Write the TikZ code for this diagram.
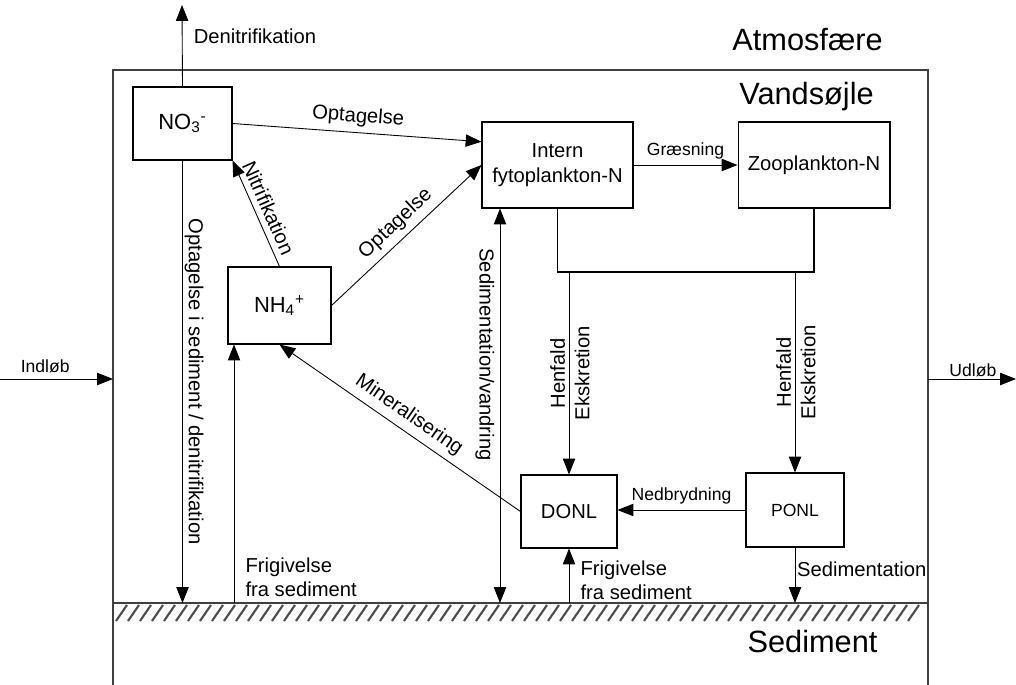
\documentclass[tikz,border=0pt]{standalone}
\usepackage{fontspec}
\setmainfont{Liberation Sans}
\usetikzlibrary{arrows.meta}
\usetikzlibrary{positioning}

\begin{document}
\begin{tikzpicture}[x=0.02cm,y=-0.02cm,
  every node/.style={font=\fontsize{11.5}{14}\selectfont},
  box/.style={draw,line width=0.6pt,align=center,inner sep=2pt},
  big/.style={font=\fontsize{17.5}{21}\selectfont},
  mid/.style={font=\fontsize{12.5}{15}\selectfont},
  small/.style={font=\fontsize{10}{12}\selectfont},
  flow/.style={line width=0.5pt,-{Triangle[length=9pt,width=7pt]}},
  back/.style={line width=0.5pt,{Triangle[length=9pt,width=7pt]}-},
  both/.style={line width=0.5pt,{Triangle[length=9pt,width=7pt]}-{Triangle[length=9pt,width=7pt]}},
  frame/.style={line width=0.6pt,black!75},
  hatch/.style={line width=1.2pt,black!70}]
\useasboundingbox (0,0) rectangle (1016,685);

\draw[frame] (113,685) -- (113,70) -- (928,70) -- (928,685);
\draw[frame] (113,603) -- (928,603);
\foreach \x in {116,128,...,908}
  \draw[hatch] (\x,621) -- ++(11,-16);

\node[big] (atmos) at (807.5,40) {Atmosfære};
\node[big] (vand) at (806.5,97) {Vandsøjle};
\node[big] (sedi) at (812.5,642) {Sediment};

\node[box,mid,minimum width=1.98cm,minimum height=1.46cm] (no3) at (182.5,123.5) {NO\textsubscript{3}\textsuperscript{-}};
\node[box,mid,minimum width=2.06cm,minimum height=1.54cm] (nh4) at (279.5,305.5) {NH\textsubscript{4}\textsuperscript{+}};
\node[box,minimum width=3.02cm,minimum height=1.72cm] (intern) at (557.5,165) {Intern\\fytoplankton-N};
\node[box,minimum width=3.04cm,minimum height=1.72cm,right=2.08cm of intern] (zoo) {Zooplankton-N};
\node[box,minimum width=1.92cm,minimum height=1.46cm] (donl) at (569,511.5) {DONL};
\node[box,small,minimum width=1.96cm,minimum height=1.48cm] (ponl) at (795,510) {PONL};

\coordinate (atm) at (182,5);
\coordinate (sed) at (113,603);
\coordinate (fr1) at (234,603);
\coordinate (sv) at (500,603);
\coordinate (br) at (557.5,272);
\coordinate (inl) at (0,379);
\coordinate (inr) at (113,379);
\coordinate (udl) at (928,379);
\coordinate (udr) at (1016,379);

\draw[flow] (no3.north) -- node[pos=0.61,right,xshift=3pt] {Denitrifikation} (atm);
\draw[flow] (no3.south) -- node[midway,rotate=-90,anchor=south,inner sep=1pt] {Optagelse i sediment / denitrifikation} (no3.south |- sed);
\draw[flow] (no3.east) -- node[midway,sloped,above] {Optagelse} (intern.163);
\draw[back] (no3.south east) -- node[midway,sloped,above] {Nitrifikation} (nh4.north);
\draw[flow] (nh4.east) -- node[midway,sloped,above] {Optagelse} (intern.west);
\draw[back] (nh4.south) -- node[midway,sloped,above] {Mineralisering} (donl.west);
\draw[flow] (fr1) -- node[pos=0.1,right,align=left,xshift=3pt] {Frigivelse\\fra sediment} (fr1 |- nh4.south);
\draw[both] (sv) -- node[pos=0.63,rotate=-90,anchor=north,inner sep=3pt] {Sedimentation/vandring} (sv |- intern.south);

\draw[flow] (intern.east) -- node[midway,above,small] {Græsning} (zoo.west);
\draw[line width=0.6pt] (intern.south) -- (br) -| (zoo.south);
\draw[flow] (donl.north |- br) -- node[midway,rotate=90,anchor=south,inner sep=2pt] {Henfald}
  node[midway,rotate=90,anchor=north,inner sep=3pt] {Ekskretion} (donl.north);
\draw[flow] (ponl.north |- br) -- node[midway,rotate=90,anchor=south,inner sep=2pt] {Henfald}
  node[midway,rotate=90,anchor=north,inner sep=3pt] {Ekskretion} (ponl.north);
\draw[flow] (ponl.west) -- node[midway,above,small] {Nedbrydning} (ponl.west -| donl.east);
\draw[flow] (donl.south |- sed) -- node[pos=0.42,right,align=left,xshift=3pt] {Frigivelse\\fra sediment} (donl.south);
\draw[flow] (ponl.south) -- node[pos=0.39,right,inner sep=1pt] {Sedimentation} (ponl.south |- sed);

\draw[flow] (inl) -- node[pos=0.4,above,small] {Indløb} (inr);
\draw[flow] (udl) -- node[pos=0.51,above,small,inner sep=1pt] {Udløb} (udr);
\end{tikzpicture}
\end{document}
